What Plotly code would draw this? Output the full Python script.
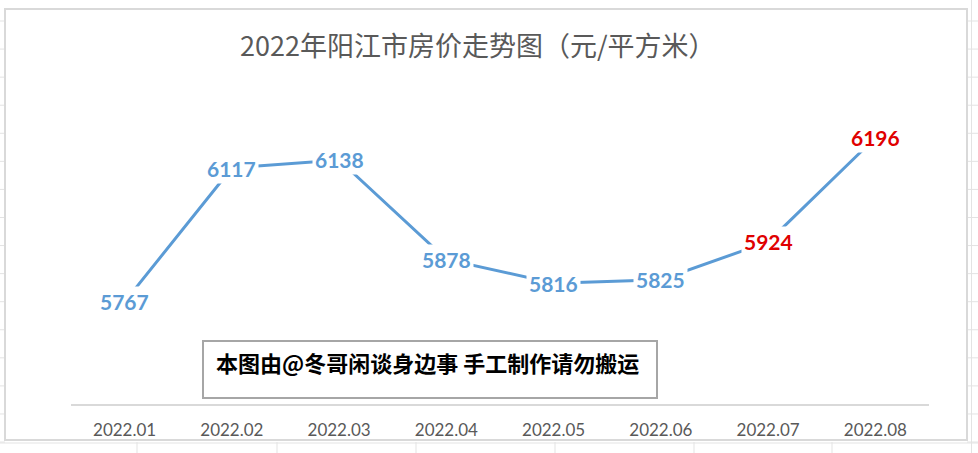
import plotly.graph_objects as go

# ---- data ----
months = ["2022.01", "2022.02", "2022.03", "2022.04", "2022.05", "2022.06", "2022.07", "2022.08"]
prices = [5767, 6117, 6138, 5878, 5816, 5825, 5924, 6196]
label_colors = ["#5B9BD5"] * 6 + ["#E00000"] * 2
title_text = "2022年阳江市房价走势图（元/平方米）"
watermark_text = "本图由@冬哥闲谈身边事 手工制作请勿搬运"
y_range = [5500, 6300]

W, H = 978, 453
def px(x):
    return x / W
def py(y):
    return 1 - y / H

fig = go.Figure()
fig.add_trace(go.Scatter(
    x=list(range(len(months))), y=prices, mode="lines",
    line=dict(color="#5B9BD5", width=3),
    hoverinfo="skip", showlegend=False,
))

annotations = []
for i, (v, c) in enumerate(zip(prices, label_colors)):
    annotations.append(dict(
        x=i, y=v, xref="x", yref="y", text=f"<b>{v}</b>", showarrow=False,
        font=dict(family="Lato, Carlito, sans-serif", size=21, color=c),
        bgcolor="white", borderpad=2, xanchor="center", yanchor="middle",
    ))
annotations.append(dict(
    x=px(478), y=py(45), xref="paper", yref="paper", text=title_text, showarrow=False,
    font=dict(family="Noto Sans CJK SC", size=27, color="#595959"),
    xanchor="center", yanchor="middle",
))
annotations.append(dict(
    x=px(427), y=py(362), xref="paper", yref="paper", text=f"<b>{watermark_text}</b>",
    showarrow=False, font=dict(family="Noto Sans CJK SC", size=22, color="#000000"),
    xanchor="center", yanchor="middle",
))

grid = "#e3e3e3"
shapes = []
# spreadsheet cell gridlines outside the chart
row_ys = [21 + 28.07 * k for k in range(16)]
for y in row_ys:
    shapes.append(dict(type="line", xref="paper", yref="paper", x0=0, x1=px(5), y0=py(y), y1=py(y),
                       line=dict(color=grid, width=1), layer="below"))
    shapes.append(dict(type="line", xref="paper", yref="paper", x0=px(967), x1=1, y0=py(y), y1=py(y),
                       line=dict(color=grid, width=1), layer="below"))
shapes.append(dict(type="line", xref="paper", yref="paper", x0=px(971.5), x1=px(971.5), y0=0, y1=1,
                   line=dict(color=grid, width=1), layer="below"))
for x in [137, 277, 416, 555, 694, 832]:
    shapes.append(dict(type="line", xref="paper", yref="paper", x0=px(x), x1=px(x), y0=0, y1=py(442),
                       line=dict(color=grid, width=1), layer="below"))
shapes.append(dict(type="line", xref="paper", yref="paper", x0=0, x1=1, y0=py(443), y1=py(443),
                   line=dict(color=grid, width=1), layer="below"))
# chart border
shapes.append(dict(type="rect", xref="paper", yref="paper", x0=px(5), x1=px(967), y0=py(440), y1=py(9),
                   line=dict(color="#d9d9d9", width=2), fillcolor="white", layer="below"))
# watermark box
shapes.append(dict(type="rect", xref="paper", yref="paper", x0=px(203), x1=px(657), y0=py(398), y1=py(341),
                   line=dict(color="#a6a6a6", width=2), fillcolor="white", layer="below"))

fig.update_layout(
    width=W, height=H,
    margin=dict(l=0, r=0, t=0, b=0),
    paper_bgcolor="white", plot_bgcolor="rgba(0,0,0,0)",
    xaxis=dict(domain=[px(71), px(929)], type="linear", range=[-0.5, 7.5],
               tickmode="array", tickvals=list(range(len(months))), ticktext=months,
               showline=True, linecolor="#d9d9d9", linewidth=2, showgrid=False, zeroline=False,
               ticks="", tickfont=dict(family="Lato, Carlito, sans-serif", size=17, color="#595959"),
               ticklabelstandoff=10),
    yaxis=dict(domain=[py(404), py(98)], range=y_range, visible=False, showgrid=False, zeroline=False),
    annotations=annotations, shapes=shapes, showlegend=False,
)

fig.write_html("out.html")
